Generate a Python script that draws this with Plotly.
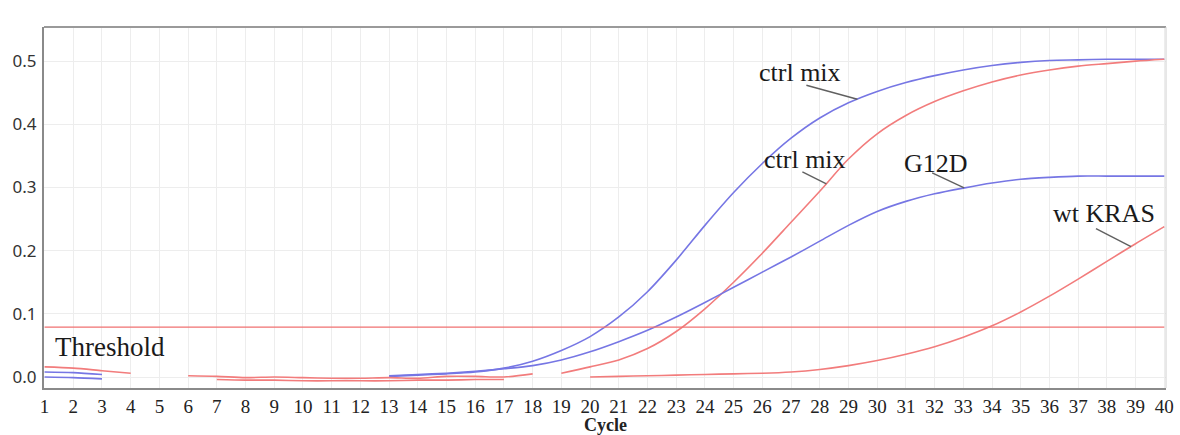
import plotly.graph_objects as go
import numpy as np

# Amplification curves, fluorescence per cycle (None = no reading drawn)
cycles = list(range(1, 41))

ctrl_mix_blue = [0.008, 0.007, 0.004, None, None, None, None, None, None, None,
                 None, None, 0.001, 0.003, 0.005, 0.008, 0.014, 0.025, 0.042, 0.064,
                 0.095, 0.135, 0.185, 0.240, 0.292, 0.338, 0.378, 0.410, 0.434, 0.452,
                 0.466, 0.477, 0.486, 0.493, 0.498, 0.501, 0.502, 0.503, 0.503, 0.503]

ctrl_mix_red = [0.016, 0.014, 0.010, 0.006, None, None, -0.004, -0.005, -0.005, -0.006,
                -0.006, -0.006, -0.006, -0.005, -0.005, -0.004, -0.004, None, 0.006, 0.016,
                0.027, 0.045, 0.072, 0.108, 0.150, 0.196, 0.245, 0.294, 0.345, 0.385,
                0.414, 0.436, 0.453, 0.467, 0.478, 0.486, 0.492, 0.496, 0.500, 0.503]

g12d = [0.000, -0.001, -0.003, None, None, None, None, None, None, None,
        None, None, 0.002, 0.004, 0.006, 0.009, 0.013, 0.018, 0.027, 0.040,
        0.056, 0.074, 0.095, 0.118, 0.142, 0.166, 0.190, 0.215, 0.240, 0.262,
        0.278, 0.290, 0.299, 0.307, 0.313, 0.316, 0.318, 0.318, 0.318, 0.318]

wt_kras = [None, None, None, None, None, 0.002, 0.001, -0.001, 0.000, -0.001,
           -0.002, -0.002, -0.001, -0.002, 0.001, 0.001, 0.000, 0.005, None, 0.000,
           0.001, 0.002, 0.003, 0.004, 0.005, 0.006, 0.008, 0.012, 0.018, 0.026,
           0.036, 0.048, 0.063, 0.081, 0.103, 0.128, 0.155, 0.183, 0.211, 0.238]

threshold = 0.079

x_ticks = list(range(1, 41))
y_ticks = [0.0, 0.1, 0.2, 0.3, 0.4, 0.5]

BLUE = "#7676e4"
RED = "#f27c7c"

fig = go.Figure()

series = [
    ("ctrl mix (FAM)", ctrl_mix_blue, BLUE),
    ("ctrl mix (HEX)", ctrl_mix_red, RED),
    ("G12D", g12d, BLUE),
    ("wt KRAS", wt_kras, RED),
]
for name, vals, col in series:
    fig.add_trace(go.Scatter(
        x=cycles, y=vals, mode="lines", name=name,
        line=dict(color=col, width=1.6, shape="spline", smoothing=0.8),
        connectgaps=False, hoverinfo="x+y+name",
    ))

# Threshold line across all cycles
fig.add_trace(go.Scatter(
    x=[cycles[0], cycles[-1]], y=[threshold, threshold], mode="lines",
    line=dict(color="#f07070", width=1.2), name="Threshold", hoverinfo="skip",
))


def value_at(vals, c):
    xs = [x for x, v in zip(cycles, vals) if v is not None]
    ys = [v for v in vals if v is not None]
    return float(np.interp(c, xs, ys))


# Curve labels with leader lines: (text, series, cycle, line dx/dy px, text dx/dy px)
labels = [
    ("ctrl mix", ctrl_mix_blue, 29.31, -51, 14, -57, 27),
    ("ctrl mix", ctrl_mix_red, 28.23, -24, 12, -21, 24),
    ("G12D", g12d, 33.03, -32, 15, -28, 24),
    ("wt KRAS", wt_kras, 38.84, -35, 18, -27, 33),
]
serif = "Liberation Serif, Times New Roman, serif"
for text, vals, c, ldx, ldy, tdx, tdy in labels:
    v = value_at(vals, c)
    fig.add_shape(type="line", xref="x", yref="y",
                  xsizemode="pixel", ysizemode="pixel",
                  xanchor=c, yanchor=v, x0=0, y0=0, x1=ldx, y1=ldy,
                  line=dict(color="#606060", width=1.4))
    fig.add_annotation(x=c, y=v, xref="x", yref="y", text=text, showarrow=False,
                       xshift=tdx, yshift=tdy,
                       font=dict(family=serif, size=26, color="#1a1a1a"))

fig.add_annotation(x=cycles[0], y=threshold, xref="x", yref="y", text="Threshold",
                   showarrow=False, xanchor="left", yanchor="top", xshift=8, yshift=-3,
                   font=dict(family=serif, size=27, color="#1a1a1a"))

# Axis title below the cycle numbers
fig.add_annotation(x=0.5, y=0, xref="paper", yref="paper", text="<b>Cycle</b>",
                   showarrow=False, xanchor="center", yanchor="middle", yshift=-37,
                   font=dict(family=serif, size=18, color="#222"))

# Top and right borders of the plot frame
fig.add_shape(type="line", xref="paper", yref="paper", x0=0, x1=1, y0=1, y1=1,
              line=dict(color="#9a9a9a", width=2))
fig.add_shape(type="line", xref="paper", yref="paper", x0=1, x1=1, y0=0, y1=1,
              line=dict(color="#d0d0d0", width=1))

fig.update_layout(
    width=1180, height=435,
    margin=dict(l=44, r=14, t=27, b=47, autoexpand=False),
    paper_bgcolor="white", plot_bgcolor="white",
    showlegend=False,
)
fig.update_xaxes(
    range=[0.98, 40.06], tickvals=x_ticks, ticktext=[str(t) for t in x_ticks],
    tickfont=dict(family=serif, size=19, color="#222"), ticklabelstandoff=0,
    showgrid=True, gridcolor="#ededed", gridwidth=1, zeroline=False,
    showline=True, linecolor="#8a8a8a", linewidth=2, ticks="", automargin=False,
)
fig.update_yaxes(
    range=[-0.0174, 0.554], tickvals=y_ticks, tickformat=".1f",
    tickfont=dict(family="Noto Sans, Open Sans, sans-serif", size=17, color="#333"),
    ticklabelstandoff=2, automargin=False,
    showgrid=True, gridcolor="#ededed", gridwidth=1, zeroline=False,
    showline=True, linecolor="#8a8a8a", linewidth=2, ticks="",
)

fig.write_html("out.html")
